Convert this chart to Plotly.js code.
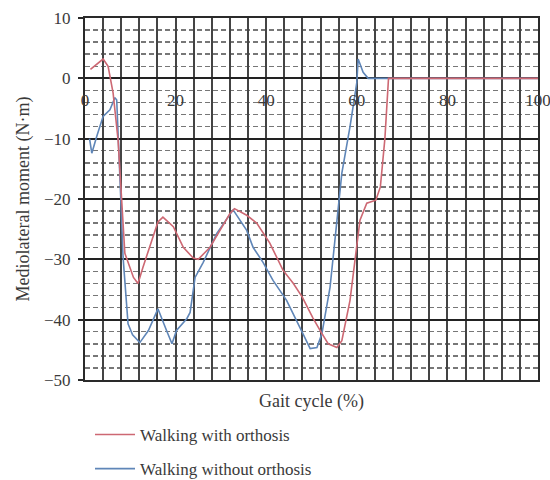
<!DOCTYPE html>
<html>
<head>
<meta charset="utf-8">
<script src="https://cdn.plot.ly/plotly-3.0.1.min.js"></script>
<style>html,body{margin:0;padding:0;background:#fff;}#chart{width:550px;height:480px;}</style>
</head>
<body>
<div id="chart"></div>
<script>
// Gait cycle (%) and mediolateral moment (N·m)
const withX = [1.2, 2.6, 4.0, 5.1, 6.2, 7.3, 8.1, 8.8, 10.7, 11.7, 12.8, 14.7, 16.1, 17.2, 19.5, 21.7, 23.9, 25.0, 27.6, 29.8, 32.0, 33.0, 35.7, 37.9, 39.3, 40.8, 43.7, 46.0, 48.0, 50.3, 52.3, 53.7, 55.6, 56.7, 58.5, 59.6, 60.7, 62.2, 64.2, 65.2, 66.2, 67.0, 100];
const withY = [1.5, 2.3, 3.2, 2.0, -2.4, -10.2, -20, -29, -33, -34, -31.3, -26.8, -23.8, -23, -24.6, -28, -29.8, -30, -28, -25.2, -22.4, -21.6, -22.7, -24, -25.6, -27.3, -31.8, -34, -36.3, -39.7, -42.3, -44, -44.6, -43.5, -36.8, -30, -23.5, -20.7, -20.2, -18, -10, 0, 0];

const withoutX = [1.0, 1.5, 2.6, 4.0, 5.5, 6.6, 7.0, 7.3, 7.9, 8.4, 9.5, 10.5, 12.1, 14.0, 16.1, 18.0, 19.2, 20.2, 22.5, 23.2, 24.3, 26.1, 29.1, 32.7, 35.7, 37.1, 39.3, 41.5, 44.5, 48.1, 49.7, 51.2, 52.3, 54.1, 55.9, 56.7, 58.5, 60.0, 60.3, 61.4, 62.5, 100];
const withoutY = [-10, -12.4, -9.6, -6.3, -5.2, -3.2, -3.6, -10.2, -20, -29.6, -40.7, -42.5, -43.8, -41.8, -38.2, -41.8, -44, -41.8, -39.8, -38.8, -33, -30.5, -25.7, -21.8, -25.2, -28, -30.5, -33.5, -36.8, -42.3, -44.8, -44.6, -42.3, -34.6, -21.8, -15.7, -8, -0.7, 3.2, 1, 0, 0];

const seriesNames = ['Walking with orthosis', 'Walking without orthosis'];
const xTickVals = [0, 20, 40, 60, 80, 100];
const xTickText = ['0', '20', '40', '60', '80', '100'];

const serif = 'Liberation Serif, Times New Roman, serif';
const textColor = '#3a3a3a';

const traces = [
  {x: withoutX, y: withoutY, name: seriesNames[1], type: 'scatter', mode: 'lines',
   line: {color: '#5f86b8', width: 1.6}, legendgroup: 'b', legendrank: 2, xaxis: 'x', yaxis: 'y'},
  {x: withX, y: withY, name: seriesNames[0], type: 'scatter', mode: 'lines',
   line: {color: '#cd6873', width: 1.6}, legendgroup: 'a', legendrank: 1, xaxis: 'x', yaxis: 'y'},
  {x: [0, 100], y: [null, null], type: 'scatter', mode: 'lines', showlegend: false,
   hoverinfo: 'skip', xaxis: 'x2', yaxis: 'y'}
];

const layout = {
  width: 550, height: 480,
  margin: {l: 85, r: 12, t: 18, b: 100, autoexpand: false},
  paper_bgcolor: '#fff', plot_bgcolor: '#fff',
  font: {family: serif, size: 17, color: textColor},
  showlegend: true,
  legend: {x: 5/453, xanchor: 'left', y: -107/362, yanchor: 'bottom', orientation: 'v',
           traceorder: 'grouped', tracegroupgap: 9, itemwidth: 40,
           font: {family: serif, size: 17, color: textColor}, bgcolor: 'rgba(0,0,0,0)'},
  xaxis: {
    range: [0, 100], showticklabels: false, ticks: '',
    tickmode: 'linear', dtick: 4, tick0: 0,
    showgrid: true, gridcolor: '#444', gridwidth: 2, zeroline: false,
    showline: true, linecolor: '#2a2a2a', linewidth: 2, mirror: true,
    title: {text: 'Gait cycle (%)', font: {family: serif, size: 18, color: textColor}, standoff: 13}
  },
  xaxis2: {
    overlaying: 'x', anchor: 'free', position: 50/60, side: 'bottom',
    range: [0, 100], tickmode: 'array', tickvals: xTickVals, ticktext: xTickText,
    showgrid: false, zeroline: false, showline: false, ticks: '',
    ticklabelstandoff: 10, ticklabeloverflow: 'allow',
    tickfont: {family: serif, size: 17, color: textColor}
  },
  yaxis: {
    range: [-50, 10], dtick: 10, tick0: 0,
    showgrid: true, gridcolor: '#222', gridwidth: 2, zeroline: false,
    showline: true, linecolor: '#2a2a2a', linewidth: 2, mirror: true,
    ticks: 'outside', ticklen: 5, tickcolor: '#2a2a2a', tickwidth: 2,
    ticklabelstandoff: 4,
    minor: {dtick: 2, tick0: 0, showgrid: true, gridcolor: '#777', gridwidth: 1.5, griddash: '5px,3px'},
    tickfont: {family: serif, size: 17, color: textColor},
    title: {text: 'Mediolateral moment (N·m)', font: {family: serif, size: 18, color: textColor}, standoff: 10}
  }
};

Plotly.newPlot('chart', traces, layout, {displayModeBar: false, staticPlot: true});
</script>
</body>
</html>
